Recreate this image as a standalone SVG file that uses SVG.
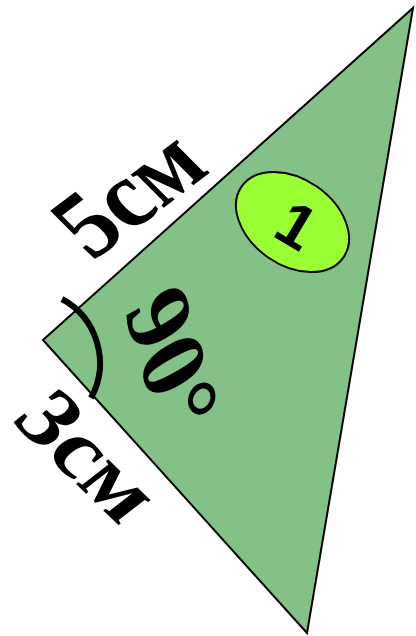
<svg xmlns="http://www.w3.org/2000/svg" width="416" height="636" viewBox="0 0 416 636">
<style>
.lbl{font-family:"Liberation Serif","Times New Roman",serif;font-weight:bold;fill:#000;font-size:100px}
</style>
<rect width="416" height="636" fill="#fff"/>
<g id="triangle">
<polygon points="43,340 413,8 307,633" fill="#83c187" stroke="#000" stroke-width="2"/>
</g>
<g id="angle-arc">
<path d="M62,299 A73,73 0 0 1 91,398" fill="none" stroke="#000" stroke-width="6"/>
</g>
<g id="label-5cm">
<text class="lbl" transform="matrix(0.74,-0.56,0.72,0.72,92,262)">5см</text>
</g>
<g id="label-3cm">
<text class="lbl" transform="matrix(0.68,0.66,-0.70,0.54,10,420)">3см</text>
</g>
<g id="label-90">
<text class="lbl" transform="matrix(0.28,0.94,-0.86,0.49,124,311)">90°</text>
</g>
<g id="badge-1">
<ellipse cx="292.5" cy="222" rx="62" ry="43" transform="rotate(35 292.5 222)" fill="#99ff33" stroke="#000" stroke-width="2"/>
<text font-family="Liberation Sans,Arial,sans-serif" font-weight="bold" font-size="62" text-anchor="middle" transform="translate(285.5,244) rotate(31)">1</text>
</g>
</svg>
